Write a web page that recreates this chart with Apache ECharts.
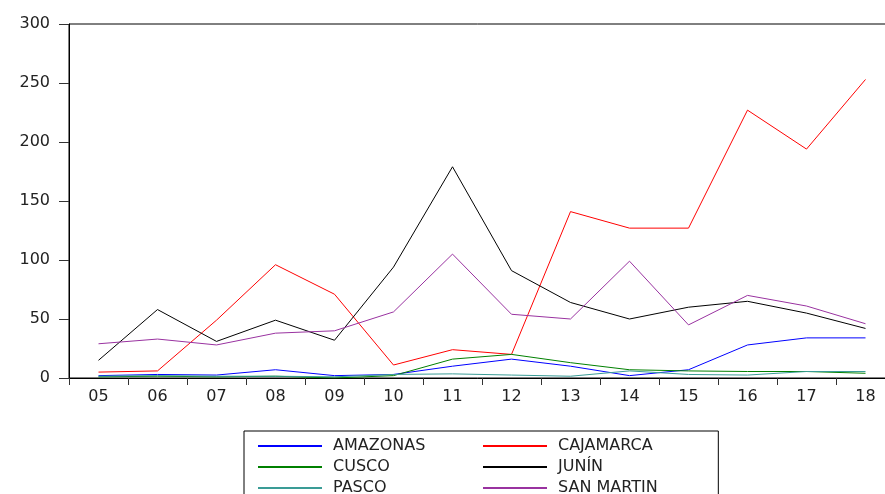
<!DOCTYPE html>
<html>
<head>
<meta charset="utf-8">
<script src="https://cdn.jsdelivr.net/npm/echarts@6/dist/echarts.min.js"></script>
<style>
html, body { margin: 0; padding: 0; background: #fff; }
#chart { width: 885px; height: 494px; }
</style>
</head>
<body>
<div id="chart"></div>
<script>
// años (eje x)
const years = ['05', '06', '07', '08', '09', '10', '11', '12', '13', '14', '15', '16', '17', '18'];
const yTicks = [0, 50, 100, 150, 200, 250, 300];

const amazonas = [2, 3, 2.5, 7, 2, 3, 10, 16, 10, 2, 7, 28, 34, 34];
const cajamarca = [5, 6, 49, 96, 71, 11, 24, 20, 141, 127, 127, 227, 194, 253];
const cusco = [1, 1.5, 1, 1.5, 0, 2, 16, 20, 13, 7, 6, 5.5, 5.5, 4];
const junin = [15, 58, 31, 49, 32, 94, 179, 91, 64, 50, 60, 65, 55, 42];
const pasco = [1.5, 2, 1.5, 1.5, 1, 3, 3.5, 2.5, 1.5, 6, 3, 2.5, 5.5, 5.5];
const sanMartin = [29, 33, 28, 38, 40, 56, 105, 54, 50, 99, 45, 70, 61, 46];

const names = ['AMAZONAS', 'CAJAMARCA', 'CUSCO', 'JUNÍN', 'PASCO', 'SAN MARTIN'];
const colors = ['#0000ff', '#ff0000', '#008000', '#000000', '#3a9c96', '#9932a0'];
const values = [amazonas, cajamarca, cusco, junin, pasco, sanMartin];

const font = 'DejaVu Sans';
const legendText = {
    fontFamily: font,
    fontSize: 16,
    color: '#222',
    width: 140,
    padding: [0, 0, 0, 6]
};

const myChart = echarts.init(document.getElementById('chart'));
myChart.setOption({
    animation: false,
    color: colors,
    grid: {
        left: 69,
        top: 24,
        bottom: 116,
        width: 826,
        outerBoundsMode: 'none',
        containLabel: false,
        show: true,
        borderColor: '#000',
        borderWidth: 1
    },
    legend: [
        {
            // columna izquierda, con el marco de toda la leyenda
            data: [names[0], names[2], names[4]],
            orient: 'vertical',
            left: 244,
            top: 431,
            height: 90,
            padding: [7, 293, 10, 14],
            borderColor: '#000',
            borderWidth: 1,
            icon: 'rect',
            itemWidth: 64,
            itemHeight: 2,
            itemGap: 5,
            textStyle: legendText
        },
        {
            data: [names[1], names[3], names[5]],
            orient: 'vertical',
            left: 483,
            top: 431,
            height: 90,
            padding: [7, 0, 10, 0],
            icon: 'rect',
            itemWidth: 64,
            itemHeight: 2,
            itemGap: 5,
            textStyle: legendText
        }
    ],
    xAxis: {
        type: 'category',
        data: years,
        boundaryGap: true,
        axisLine: { lineStyle: { color: '#000', width: 1 } },
        axisTick: { show: true, inside: false, length: 7, interval: 0, lineStyle: { color: '#333' } },
        axisLabel: { fontFamily: font, fontSize: 16, color: '#222', margin: 11, interval: 0 },
        splitLine: { show: false }
    },
    yAxis: {
        type: 'value',
        min: yTicks[0],
        max: yTicks[yTicks.length - 1],
        interval: 50,
        axisLine: { show: true, lineStyle: { color: '#000', width: 1 } },
        axisTick: { show: true, inside: false, length: 10, lineStyle: { color: '#333' } },
        axisLabel: { fontFamily: font, fontSize: 16, color: '#222', margin: 19 },
        splitLine: { show: false }
    },
    series: names.map((n, i) => ({
        name: n,
        type: 'line',
        data: values[i],
        symbol: 'none',
        lineStyle: { width: 1, color: colors[i] }
    }))
});
</script>
</body>
</html>
